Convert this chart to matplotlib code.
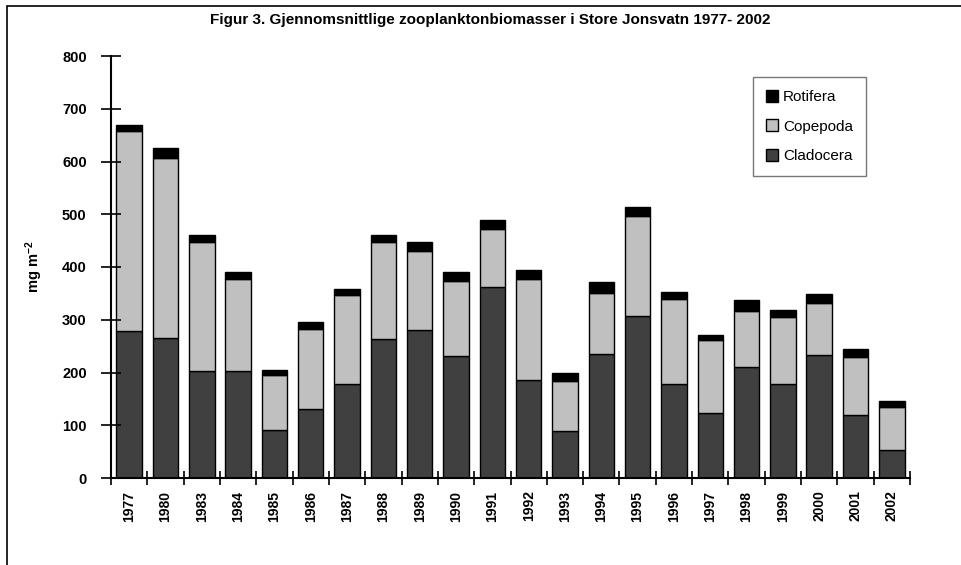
import matplotlib.pyplot as plt
import matplotlib.patches as patches
import numpy as np

# Zooplankton biomass per year (mg m-2)
years = ["1977", "1980", "1983", "1984", "1985", "1986", "1987", "1988", "1989", "1990", "1991",
         "1992", "1993", "1994", "1995", "1996", "1997", "1998", "1999", "2000", "2001", "2002"]
cladocera = [279, 265, 203, 203, 91, 131, 178, 263, 281, 231, 363,
             185, 89, 236, 308, 179, 124, 210, 178, 233, 119, 54]
copepoda = [379, 342, 244, 175, 104, 151, 168, 184, 150, 143, 109,
            193, 95, 115, 188, 160, 138, 107, 128, 98, 110, 81]
rotifera = [11, 18, 14, 12, 10, 13, 13, 14, 16, 17, 18,
            16, 15, 21, 18, 14, 9, 20, 13, 18, 15, 11]

plt.rcParams['font.family'] = ['Liberation Sans', 'DejaVu Sans']
plt.rcParams['mathtext.fontset'] = 'custom'
plt.rcParams['mathtext.rm'] = 'Liberation Sans:bold'
plt.rcParams['mathtext.bf'] = 'Liberation Sans:bold'
plt.rcParams['mathtext.default'] = 'rm'

fig = plt.figure(figsize=(9.61, 5.65), dpi=100)
ax = fig.add_axes([111 / 961, 1 - 478 / 565, (910 - 111) / 961, (478 - 56) / 565])

x = np.arange(len(years))
cla = np.array(cladocera)
cop = np.array(copepoda)
rot = np.array(rotifera)

w = 0.7
b1 = ax.bar(x, cla, w, color='#404040', edgecolor='black', linewidth=1, label='Cladocera')
b2 = ax.bar(x, cop, w, bottom=cla, color='#c0c0c0', edgecolor='black', linewidth=1, label='Copepoda')
b3 = ax.bar(x, rot, w, bottom=cla + cop, color='black', edgecolor='black', linewidth=1, label='Rotifera')

ax.set_xlim(-0.5, len(years) - 0.5)
ax.set_ylim(0, 800)
ax.set_yticks(range(0, 801, 100))
ax.set_yticklabels([str(v) for v in range(0, 801, 100)], fontsize=10.5, fontweight='bold')
ax.tick_params(axis='y', direction='inout', length=15, width=1.2, pad=10)

ax.set_xticks(x)
ax.set_xticklabels(years, rotation=90, fontsize=10, fontweight='bold')
ax.tick_params(axis='x', which='major', length=0, pad=9)
ax.set_xticks(np.arange(-0.5, len(years), 1), minor=True)
ax.tick_params(axis='x', which='minor', direction='inout', length=10, width=1.2)

for s in ['top', 'right']:
    ax.spines[s].set_visible(False)
for s in ['left', 'bottom']:
    ax.spines[s].set_linewidth(1.5)

ax.set_ylabel('mg m$^{-2}$', fontsize=10.5, fontweight='bold', labelpad=12)

fig.text(490 / 961, 1 - 20 / 565,
         'Figur 3. Gjennomsnittlige zooplanktonbiomasser i Store Jonsvatn 1977- 2002',
         ha='center', va='center', fontsize=11, fontweight='bold')

leg = ax.legend([b3, b2, b1], ['Rotifera', 'Copepoda', 'Cladocera'],
                loc='upper left', bbox_to_anchor=(753 / 961, 1 - 77 / 565),
                bbox_transform=fig.transFigure, fontsize=11, frameon=True, fancybox=False,
                labelspacing=1.0, handlelength=0.8, handleheight=0.8, handletextpad=0.3,
                borderpad=0.85, borderaxespad=0)
leg.get_frame().set_edgecolor('#555555')
leg.get_frame().set_linewidth(1)

# outer chart frame (cut off on the right and bottom)
frame = patches.Rectangle((7 / 961, -0.1), 1.2, 1.1 - 6 / 565, transform=fig.transFigure,
                          fill=False, edgecolor='black', linewidth=1.2, clip_on=False)
fig.add_artist(frame)

fig.savefig('out.png', dpi=100)
